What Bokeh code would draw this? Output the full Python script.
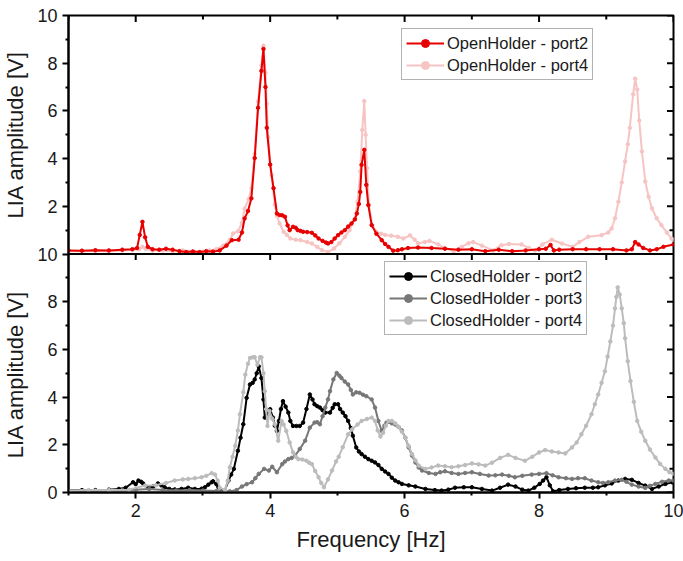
import math
from bokeh.plotting import figure
from bokeh.models import (Range1d, FixedTicker, Legend, LegendItem, Span)
from bokeh.embed import file_html
from bokeh.resources import INLINE

FONT = "Liberation Sans"

# ---------------- data ----------------
x_major = [2, 4, 6, 8, 10]
x_minor = [1, 3, 5, 7, 9]
y_major = [0, 2, 4, 6, 8, 10, 12, 14, 16, 18, 20]
y_minor = [1, 3, 5, 7, 9, 11, 13, 15, 17, 19]
y_tick_labels = {0: "0", 2: "2", 4: "4", 6: "6", 8: "8", 10: "10",
                 12: "2", 14: "4", 16: "6", 18: "8", 20: "10"}
y_title = "LIA amplitude [V]"
x_title = "Frequency [Hz]"

# Top panel: OpenHolder
open_p2_f = [1.0, 1.2, 1.4, 1.6, 1.8, 1.95, 2.02, 2.06, 2.10, 2.14, 2.18, 2.25, 2.35, 2.45, 2.55,
             2.65, 2.75, 2.85, 2.95, 3.05, 3.15, 3.25, 3.35, 3.43, 3.53, 3.58, 3.62, 3.67, 3.72,
             3.77, 3.82, 3.87, 3.90, 3.93, 3.95, 4.0, 4.05, 4.10, 4.14, 4.18, 4.22, 4.26, 4.29,
             4.34, 4.38, 4.41, 4.45, 4.49, 4.55, 4.62, 4.67, 4.72, 4.78, 4.83, 4.86, 4.91, 4.96,
             5.01, 5.06, 5.11, 5.16, 5.21, 5.26, 5.29, 5.32, 5.34, 5.36, 5.40, 5.43, 5.46, 5.51,
             5.58, 5.66, 5.71, 5.76, 5.83, 5.9, 5.96, 6.05, 6.2, 6.4, 6.6, 6.8, 7.0, 7.2, 7.4,
             7.6, 7.8, 8.0, 8.1, 8.17, 8.22, 8.3, 8.5, 8.7, 8.9, 9.1, 9.3, 9.38, 9.43, 9.48,
             9.55, 9.65, 9.75, 9.85, 10.0]
open_p2_v = [0.15, 0.14, 0.16, 0.15, 0.18, 0.2, 0.25, 0.8, 1.35, 0.7, 0.3, 0.2, 0.18, 0.22, 0.18,
             0.12, 0.08, 0.1, 0.08, 0.12, 0.1, 0.15, 0.35, 0.58, 0.6, 0.9, 1.49, 1.8, 2.33,
             4.02, 6.13, 7.68, 8.6, 7.0, 5.29, 3.75, 2.76, 1.70, 1.63, 1.62, 1.56, 1.2, 1.0,
             1.14, 1.1, 1.0, 0.97, 0.93, 0.92, 0.89, 0.78, 0.65, 0.55, 0.48, 0.44, 0.5, 0.65,
             0.79, 0.9, 1.0, 1.15, 1.28, 1.45, 1.70, 2.1, 2.6, 3.74, 4.37, 2.9, 2.05, 1.21,
             0.85, 0.58, 0.42, 0.30, 0.14, 0.16, 0.2, 0.25, 0.27, 0.25, 0.22, 0.18, 0.2, 0.12, 0.18,
             0.12, 0.15, 0.2, 0.22, 0.38, 0.15, 0.18, 0.2, 0.2, 0.2, 0.2, 0.15, 0.2, 0.5, 0.4,
             0.25, 0.15, 0.2, 0.3, 0.4]

open_p4_f = [1.0, 1.2, 1.4, 1.6, 1.8, 1.95, 2.05, 2.1, 2.15, 2.25, 2.4, 2.55, 2.7, 2.85, 3.0, 3.1,
             3.2, 3.3, 3.4, 3.45, 3.52, 3.58, 3.62, 3.68, 3.72, 3.77, 3.82, 3.87, 3.90, 3.93,
             3.95, 3.97, 4.02, 4.07, 4.10, 4.14, 4.2, 4.25, 4.30, 4.38, 4.45, 4.55, 4.62, 4.7,
             4.77, 4.86, 4.95, 5.03, 5.11, 5.18, 5.26, 5.30, 5.34, 5.37, 5.40, 5.42, 5.44, 5.47,
             5.52, 5.58, 5.65, 5.71, 5.8, 5.9, 5.98, 6.08, 6.15, 6.2, 6.3, 6.37, 6.5, 6.6, 6.73,
             6.85, 6.95, 7.02, 7.15, 7.32, 7.44, 7.55, 7.74, 7.85, 7.94, 8.05, 8.19, 8.34, 8.5,
             8.6, 8.73, 8.93, 9.03, 9.08, 9.13, 9.18, 9.23, 9.28, 9.32, 9.35, 9.40, 9.43, 9.46,
             9.49, 9.53, 9.58, 9.63, 9.68, 9.75, 9.82, 9.9, 9.97, 10.0]
open_p4_v = [0.12, 0.12, 0.14, 0.12, 0.15, 0.18, 0.2, 0.3, 0.22, 0.15, 0.15, 0.12, 0.15, 0.12, 0.1, 0.15,
             0.2, 0.35, 0.6, 0.86, 0.95, 1.3, 1.9, 2.3, 2.76, 4.2, 6.4, 7.9, 8.73, 7.6,
             6.3, 4.9, 3.3, 2.07, 1.6, 1.28, 0.93, 0.8, 0.65, 0.6, 0.58, 0.5, 0.44, 0.3,
             0.16, 0.09, 0.23, 0.45, 0.72, 1.0, 1.49, 2.2, 3.46, 5.2, 6.41, 5.0, 3.6, 2.05,
             1.2, 0.93, 0.85, 0.8, 0.77, 0.72, 0.65, 0.78, 0.6, 0.45, 0.5, 0.55, 0.4, 0.25, 0.12,
             0.3, 0.45, 0.5, 0.35, 0.15, 0.37, 0.42, 0.4, 0.25, 0.15, 0.4, 0.6, 0.44, 0.3,
             0.5, 0.72, 0.79, 0.9, 1.07, 1.5, 2.19, 3.0, 3.88, 4.6, 5.29, 6.7, 7.35, 6.9,
             5.6, 4.3, 3.04, 2.4, 1.91, 1.5, 1.21, 0.9, 0.65, 0.6]

# Bottom panel: ClosedHolder
closed_p2_f = [1.0, 1.2, 1.4, 1.6, 1.75, 1.85, 1.96, 2.0, 2.04, 2.08, 2.11, 2.19, 2.26, 2.33, 2.38,
               2.43, 2.5, 2.58, 2.68, 2.78, 2.88, 2.98, 3.03, 3.08, 3.13, 3.15, 3.2, 3.23, 3.28,
               3.32, 3.38, 3.42, 3.46, 3.52, 3.56, 3.60, 3.65, 3.70, 3.74, 3.77, 3.80, 3.83, 3.87,
               3.90, 3.92, 3.96, 4.0, 4.04, 4.07, 4.10, 4.13, 4.16, 4.19, 4.23, 4.27, 4.30, 4.34,
               4.39, 4.44, 4.49, 4.54, 4.59, 4.63, 4.66, 4.70, 4.74, 4.78, 4.82, 4.89, 4.93, 4.96,
               5.01, 5.04, 5.08, 5.12, 5.16, 5.2, 5.23, 5.28, 5.32, 5.36, 5.41, 5.46, 5.51, 5.56,
               5.61, 5.66, 5.71, 5.76, 5.81, 5.86, 5.91, 5.96, 6.06, 6.16, 6.31, 6.45, 6.55, 6.65,
               6.75, 6.88, 7.0, 7.15, 7.3, 7.42, 7.54, 7.65, 7.75, 7.84, 7.93, 8.01, 8.06, 8.11,
               8.16, 8.21, 8.3, 8.43, 8.55, 8.68, 8.8, 8.88, 8.98, 9.08, 9.18, 9.28, 9.38, 9.48,
               9.58, 9.68, 9.78, 9.88, 9.98, 10.0]
closed_p2_v = [0.08, 0.1, 0.1, 0.12, 0.15, 0.2, 0.43, 0.35, 0.5, 0.45, 0.38, 0.2, 0.25, 0.38, 0.3,
               0.22, 0.15, 0.13, 0.15, 0.2, 0.15, 0.16, 0.22, 0.33, 0.43, 0.47, 0.35, 0.22, 0.1,
               0.05, 0.5, 0.75, 0.99, 1.75, 2.3, 2.86, 3.97, 4.53, 4.6, 4.74, 5.0, 5.29, 4.8,
               3.9, 3.14, 3.3, 3.49, 3.14, 2.8, 2.58, 3.0, 3.5, 3.83, 3.6, 3.35, 3.0, 2.79,
               2.79, 2.79, 2.93, 3.5, 4.11, 3.9, 3.7, 3.62, 3.56, 3.45, 3.35, 3.35, 3.55, 3.70,
               3.70, 3.5, 3.35, 3.2, 3.0, 2.7, 2.38, 1.89, 1.72, 1.61, 1.5, 1.40, 1.33, 1.26,
               1.15, 0.99, 0.88, 0.78, 0.62, 0.5, 0.43, 0.36, 0.3, 0.25, 0.15, 0.1, 0.08, 0.12,
               0.2, 0.22, 0.22, 0.15, 0.08, 0.2, 0.33, 0.25, 0.12, 0.08, 0.2, 0.36, 0.5, 0.64,
               0.3, 0.05, 0.1, 0.15, 0.18, 0.2, 0.2, 0.22, 0.3, 0.38, 0.5, 0.57, 0.53, 0.4,
               0.29, 0.15, 0.25, 0.36, 0.43, 0.43]

closed_p3_f = [1.0, 1.2, 1.4, 1.6, 1.8, 2.0, 2.2, 2.4, 2.6, 2.8, 3.0, 3.2, 3.4, 3.5, 3.58, 3.65,
               3.73, 3.78, 3.83, 3.91, 3.98, 4.03, 4.10, 4.18, 4.22, 4.27, 4.32, 4.37, 4.44, 4.52,
               4.59, 4.66, 4.70, 4.74, 4.78, 4.82, 4.86, 4.89, 4.94, 4.99, 5.03, 5.06, 5.11, 5.16,
               5.20, 5.23, 5.28, 5.33, 5.38, 5.43, 5.51, 5.56, 5.61, 5.66, 5.70, 5.73, 5.81, 5.86,
               5.91, 5.96, 6.01, 6.06, 6.11, 6.16, 6.21, 6.26, 6.36, 6.46, 6.53, 6.6, 6.7, 6.8,
               6.9, 7.0, 7.12, 7.25, 7.35, 7.45, 7.55, 7.64, 7.75, 7.89, 8.0, 8.11, 8.2, 8.29,
               8.4, 8.49, 8.58, 8.68, 8.78, 8.88, 8.95, 9.03, 9.13, 9.23, 9.3, 9.38, 9.48, 9.58,
               9.65, 9.73, 9.83, 9.93, 10.0]
closed_p3_v = [0.05, 0.06, 0.08, 0.1, 0.1, 0.12, 0.15, 0.1, 0.08, 0.1, 0.08, 0.06, 0.05, 0.1, 0.25, 0.35,
               0.43, 0.6, 0.78, 0.99, 0.92, 1.08, 0.85, 1.19, 1.3, 1.40, 1.45, 1.54, 1.82, 2.17,
               2.72, 2.93, 2.95, 2.86, 3.2, 3.56, 3.9, 4.25, 4.74, 5.01, 4.9, 4.8, 4.65, 4.53,
               4.3, 4.11, 4.2, 4.18, 4.1, 4.04, 3.90, 3.56, 3.0, 2.58, 2.8, 2.93, 2.9, 2.85,
               2.75, 2.6, 2.3, 1.89, 1.55, 1.26, 1.05, 0.92, 0.82, 0.78, 0.85, 0.89, 0.82, 0.78,
               0.82, 0.85, 0.78, 0.71, 0.72, 0.75, 0.7, 0.64, 0.7, 0.75, 0.78, 0.81, 0.72, 0.64,
               0.6, 0.57, 0.6, 0.6, 0.5, 0.43, 0.4, 0.43, 0.5, 0.53, 0.45, 0.33, 0.25, 0.19,
               0.28, 0.36, 0.45, 0.5, 0.5]

closed_p4_f = [1.0, 1.3, 1.6, 1.9, 2.14, 2.3, 2.45, 2.58, 2.7, 2.78, 2.88, 2.98, 3.05, 3.13, 3.18,
               3.22, 3.25, 3.33, 3.37, 3.40, 3.44, 3.48, 3.52, 3.55, 3.6, 3.63, 3.67, 3.70, 3.74,
               3.77, 3.81, 3.85, 3.87, 3.9, 3.92, 3.94, 3.96, 3.99, 4.03, 4.07, 4.12, 4.17, 4.2,
               4.24, 4.29, 4.34, 4.38, 4.42, 4.48, 4.54, 4.58, 4.62, 4.67, 4.72, 4.76, 4.80, 4.86,
               4.92, 4.98, 5.02, 5.08, 5.16, 5.22, 5.3, 5.36, 5.44, 5.51, 5.56, 5.6, 5.64, 5.68,
               5.72, 5.76, 5.81, 5.86, 5.91, 5.96, 6.01, 6.06, 6.11, 6.16, 6.21, 6.31, 6.4, 6.5,
               6.6, 6.7, 6.8, 6.9, 7.0, 7.1, 7.2, 7.3, 7.42, 7.54, 7.65, 7.79, 7.9, 8.0, 8.09,
               8.19, 8.29, 8.39, 8.49, 8.56, 8.63, 8.7, 8.78, 8.83, 8.88, 8.93, 8.98, 9.02, 9.06,
               9.1, 9.13, 9.15, 9.17, 9.2, 9.23, 9.26, 9.28, 9.32, 9.36, 9.41, 9.46, 9.52, 9.58,
               9.65, 9.73, 9.8, 9.88, 9.94, 10.0]
closed_p4_v = [0.08, 0.1, 0.1, 0.12, 0.29, 0.3, 0.4, 0.5, 0.55, 0.57, 0.6, 0.64, 0.7, 0.81, 0.75,
               0.5, 0.2, 0.1, 0.5, 1.06, 1.5, 1.96, 2.6, 3.28, 4.2, 4.94, 5.4, 5.64, 5.67,
               5.67, 5.36, 5.67, 5.67, 5.0, 4.25, 3.5, 2.79, 3.42, 3.1, 2.86, 2.17, 3.0, 2.85,
               2.58, 2.1, 1.68, 1.5, 1.4, 1.38, 1.33, 1.25, 1.19, 0.9, 0.64, 0.4, 0.22, 0.55,
               0.92, 1.3, 1.5, 1.9, 2.44, 2.65, 2.85, 3.0, 3.08, 3.14, 3.0, 2.6, 2.35, 2.5,
               2.8, 3.0, 3.0, 2.9, 2.75, 2.55, 2.3, 1.95, 1.61, 1.35, 1.13, 0.99, 1.05, 1.13,
               1.1, 1.06, 1.1, 1.15, 1.22, 1.18, 1.13, 1.25, 1.45, 1.58, 1.45, 1.33, 1.5, 1.68, 1.78,
               1.72, 1.68, 1.64, 1.89, 2.1, 2.44, 2.8, 3.28, 3.7, 4.11, 4.6, 5.08, 5.7, 6.33,
               7.0, 7.72, 8.2, 8.6, 8.3, 7.72, 7.1, 6.47, 5.5, 4.67, 3.8, 3.0, 2.55, 2.17,
               1.8, 1.47, 1.2, 0.99, 0.85, 0.78]

# ---------------- figure ----------------
p = figure(width=683, height=560, x_range=Range1d(1, 10), y_range=Range1d(0, 20),
           output_backend="svg", toolbar_location=None,
           min_border_left=67, min_border_right=10, min_border_top=15, min_border_bottom=68)
p.extra_y_ranges = {"top": Range1d(-10, 10)}
p.xgrid.visible = False
p.ygrid.visible = False
p.outline_line_color = "black"
p.outline_line_width = 2
p.background_fill_color = "white"
p.border_fill_color = "white"

xa = p.xaxis[0]
xa.ticker = FixedTicker(ticks=x_major, minor_ticks=x_minor)
xa.axis_label = x_title
ya = p.yaxis[0]
ya.ticker = FixedTicker(ticks=y_major, minor_ticks=y_minor)
ya.major_label_overrides = y_tick_labels
# one title per panel: the same words twice, spaced so each sits centred on its panel
ya.axis_label = y_title + "\u00a0" * 12 + y_title

for ax in (xa, ya):
    ax.axis_line_width = 2
    ax.major_tick_line_width = 2
    ax.minor_tick_line_width = 2
    ax.major_tick_in = 0
    ax.major_tick_out = 6
    ax.minor_tick_in = 0
    ax.minor_tick_out = 3
    ax.major_label_text_font = FONT
    ax.major_label_text_font_size = "18px"
    ax.major_label_text_color = "#1a1a1a"
    ax.axis_label_text_font = FONT
    ax.axis_label_text_font_size = "22px"
    ax.axis_label_text_font_style = "normal"
    ax.axis_label_text_color = "#1a1a1a"
xa.major_label_standoff = 5
xa.axis_label_standoff = 7
ya.major_label_standoff = 5
ya.axis_label_standoff = 6

# mirrored inward ticks on the right and top edges (markers are clipped to the frame)
p.scatter(x=[10] * len(y_major), y=y_major, marker="dash", size=13, angle=0,
          line_color="black", line_width=2)
p.scatter(x=[10] * len(y_minor), y=y_minor, marker="dash", size=8, angle=0,
          line_color="black", line_width=2)
p.scatter(x=x_major, y=[20] * len(x_major), marker="dash", size=13, angle=math.pi / 2,
          line_color="black", line_width=2)
p.scatter(x=x_minor, y=[20] * len(x_minor), marker="dash", size=8, angle=math.pi / 2,
          line_color="black", line_width=2)

# panel boundary with its downward ticks
p.add_layout(Span(location=10, dimension="width", line_color="black", line_width=2))
bt = x_major[:-1] + x_minor[1:]
p.segment(x0=bt, y0=[10] * len(bt), x1=bt, y1=[9.75] * len(bt), line_color="black", line_width=2)

RED = "#e60000"
PINK = "#f7c4c4"
BLACK = "#000000"
GRAY = "#777777"
LGRAY = "#bcbcbc"

# top panel
l4 = p.line(open_p4_f, open_p4_v, line_color=PINK, line_width=2, y_range_name="top")
s4 = p.scatter(open_p4_f, open_p4_v, size=3.5, color=PINK, y_range_name="top")
l2 = p.line(open_p2_f, open_p2_v, line_color=RED, line_width=2, y_range_name="top")
s2 = p.scatter(open_p2_f, open_p2_v, size=3.5, color=RED, y_range_name="top")

# bottom panel
c2l = p.line(closed_p2_f, closed_p2_v, line_color=BLACK, line_width=2)
c2s = p.scatter(closed_p2_f, closed_p2_v, size=3.5, color=BLACK)
c3l = p.line(closed_p3_f, closed_p3_v, line_color=GRAY, line_width=2)
c3s = p.scatter(closed_p3_f, closed_p3_v, size=3.5, color=GRAY)
c4l = p.line(closed_p4_f, closed_p4_v, line_color=LGRAY, line_width=2)
c4s = p.scatter(closed_p4_f, closed_p4_v, size=3.5, color=LGRAY)


def style_legend(lg):
    lg.label_text_font = FONT
    lg.label_text_font_size = "16.5px"
    lg.label_text_color = "#1a1a1a"
    lg.border_line_color = "#666666"
    lg.border_line_width = 1
    lg.background_fill_color = "white"
    lg.background_fill_alpha = 1
    lg.glyph_width = 38
    lg.glyph_height = 20
    lg.label_height = 20
    lg.label_standoff = 3
    lg.spacing = 2
    lg.padding = 4
    lg.margin = 0


leg_top = Legend(items=[LegendItem(label="OpenHolder - port2", renderers=[l2, s2]),
                        LegendItem(label="OpenHolder - port4", renderers=[l4, s4])],
                 location=(333, 412))
style_legend(leg_top)
p.add_layout(leg_top)

leg_bot = Legend(items=[LegendItem(label="ClosedHolder - port2", renderers=[c2l, c2s]),
                        LegendItem(label="ClosedHolder - port3", renderers=[c3l, c3s]),
                        LegendItem(label="ClosedHolder - port4", renderers=[c4l, c4s])],
                 location=(316, 157))
style_legend(leg_bot)
p.add_layout(leg_bot)

open("out.html", "w").write(file_html(p, INLINE))
